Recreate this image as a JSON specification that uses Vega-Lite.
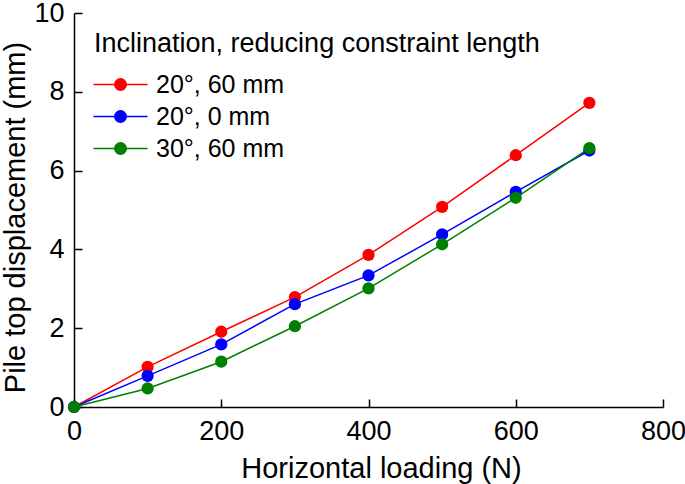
{
  "$schema": "https://vega.github.io/schema/vega-lite/v6.json",
  "width": 589,
  "height": 394,
  "autosize": {"type": "none"},
  "padding": {"left": 74, "top": 13, "right": 22, "bottom": 77},
  "background": "white",
  "config": {
    "view": {"stroke": null},
    "font": "Liberation Sans",
    "axis": {
      "grid": false,
      "domainColor": "black",
      "domainWidth": 1.5,
      "tickColor": "black",
      "tickWidth": 1.5,
      "tickSize": -8,
      "labelFont": "Liberation Sans",
      "labelFontSize": 27,
      "labelColor": "black",
      "labelFlush": false,
      "labelOverlap": false,
      "labelBound": false,
      "titleFont": "Liberation Sans",
      "titleFontSize": 29,
      "titleFontWeight": "normal",
      "titleColor": "black"
    }
  },
  "data": {
    "values": [
      {"series": "20°, 60 mm", "load": 0, "disp": 0},
      {"series": "20°, 60 mm", "load": 100, "disp": 1.02},
      {"series": "20°, 60 mm", "load": 200, "disp": 1.91},
      {"series": "20°, 60 mm", "load": 300, "disp": 2.79},
      {"series": "20°, 60 mm", "load": 400, "disp": 3.86},
      {"series": "20°, 60 mm", "load": 500, "disp": 5.08},
      {"series": "20°, 60 mm", "load": 600, "disp": 6.39},
      {"series": "20°, 60 mm", "load": 700, "disp": 7.72},
      {"series": "20°, 0 mm", "load": 0, "disp": 0},
      {"series": "20°, 0 mm", "load": 100, "disp": 0.79},
      {"series": "20°, 0 mm", "load": 200, "disp": 1.59},
      {"series": "20°, 0 mm", "load": 300, "disp": 2.61},
      {"series": "20°, 0 mm", "load": 400, "disp": 3.34},
      {"series": "20°, 0 mm", "load": 500, "disp": 4.38},
      {"series": "20°, 0 mm", "load": 600, "disp": 5.46},
      {"series": "20°, 0 mm", "load": 700, "disp": 6.51},
      {"series": "30°, 60 mm", "load": 0, "disp": 0},
      {"series": "30°, 60 mm", "load": 100, "disp": 0.47},
      {"series": "30°, 60 mm", "load": 200, "disp": 1.15},
      {"series": "30°, 60 mm", "load": 300, "disp": 2.05},
      {"series": "30°, 60 mm", "load": 400, "disp": 3.01},
      {"series": "30°, 60 mm", "load": 500, "disp": 4.13},
      {"series": "30°, 60 mm", "load": 600, "disp": 5.31},
      {"series": "30°, 60 mm", "load": 700, "disp": 6.57}
    ]
  },
  "encoding": {
    "x": {
      "field": "load",
      "type": "quantitative",
      "scale": {"domain": [0, 800], "nice": false, "zero": false},
      "axis": {
        "title": "Horizontal loading (N)",
        "values": [0, 200, 400, 600, 800],
        "labelPadding": 19,
        "titleX": 307,
        "titleY": 70,
        "titleBaseline": "alphabetic",
        "titleAlign": "center"
      }
    },
    "y": {
      "field": "disp",
      "type": "quantitative",
      "scale": {"domain": [0, 10], "nice": false, "zero": false},
      "axis": {
        "title": "Pile top displacement (mm)",
        "values": [0, 2, 4, 6, 8, 10],
        "labelPadding": 18,
        "titleX": -50,
        "titleY": 204,
        "titleAngle": -90,
        "titleBaseline": "alphabetic",
        "titleAlign": "center"
      }
    },
    "color": {
      "field": "series",
      "type": "nominal",
      "scale": {
        "domain": ["20°, 60 mm", "20°, 0 mm", "30°, 60 mm"],
        "range": ["#ff0000", "#0000ff", "#008000"]
      },
      "legend": {
        "title": "Inclination, reducing constraint length",
        "orient": "none",
        "legendX": 20,
        "legendY": 18,
        "titleFont": "Liberation Sans",
        "titleFontSize": 27,
        "titleFontWeight": "normal",
        "titleColor": "black",
        "titlePadding": 14,
        "titleLimit": 600,
        "labelFont": "Liberation Sans",
        "labelFontSize": 25,
        "labelColor": "black",
        "labelLimit": 300,
        "labelOffset": 23,
        "symbolType": "M -3.86 0 L 3.86 0 M 0.82 0 A 0.82 0.82 0 1 1 -0.82 0 A 0.82 0.82 0 1 1 0.82 0 Z",
        "symbolSize": 196,
        "symbolStrokeWidth": 1.5,
        "symbolOpacity": 1,
        "symbolOffset": 14,
        "rowPadding": 6,
        "encode": {
          "symbols": {
            "update": {
              "fill": {"scale": "color", "field": "value"},
              "stroke": {"scale": "color", "field": "value"},
              "opacity": {"value": 1}
            }
          }
        }
      }
    }
  },
  "layer": [
    {
      "mark": {"type": "line", "strokeWidth": 1.5}
    },
    {
      "mark": {"type": "point", "shape": "circle", "filled": true, "size": 150, "opacity": 1}
    }
  ]
}
